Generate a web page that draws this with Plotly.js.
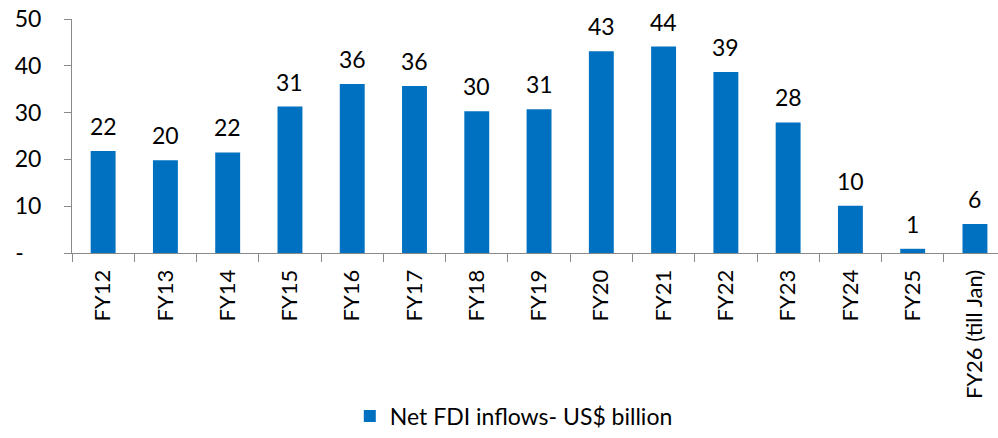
<!DOCTYPE html>
<html>
<head>
<meta charset="utf-8">
<script src="https://cdn.plot.ly/plotly-3.0.1.min.js"></script>
<style>html,body{margin:0;padding:0;background:#fff;}#chart{width:998px;height:438px;}</style>
</head>
<body>
<div id="chart"></div>
<script>
var categories = ["FY12","FY13","FY14","FY15","FY16","FY17","FY18","FY19","FY20","FY21","FY22","FY23","FY24","FY25","FY26 (till Jan)"];
var values = [21.8, 19.8, 21.5, 31.3, 36.1, 35.7, 30.3, 30.7, 43.1, 44.1, 38.7, 27.9, 10.1, 0.9, 6.2];
var labels = ["22","20","22","31","36","36","30","31","43","44","39","28","10","1","6"];
var yTickVals = [0, 10, 20, 30, 40, 50];
var yTickText = ["-\u00a0\u00a0\u00a0", "10", "20", "30", "40", "50"];
var seriesName = "Net FDI inflows- US$ billion";

var FONT = "Lato, 'Open Sans', sans-serif";
var annotations = categories.map(function(c, i){
  return {x: c, y: values[i], xref: "x", yref: "y", text: labels[i], showarrow: false,
    yanchor: "bottom", yshift: 9, font: {family: FONT, size: 23, color: "#000"}};
});

var trace = {
  type: "bar", x: categories, y: values, name: seriesName,
  marker: {color: "#0070C0"}, showlegend: true
};

var layout = {
  width: 998, height: 438,
  margin: {l: 72, r: 0, t: 19, b: 181},
  paper_bgcolor: "#fff", plot_bgcolor: "#fff",
  bargap: 0.6,
  font: {family: FONT, size: 22, color: "#000"},
  xaxis: {
    type: "category", range: [-0.5, 14.37], tickangle: -90,
    showline: true, linecolor: "#898989", linewidth: 1,
    ticks: "outside", tickson: "boundaries", ticklen: 8, tickcolor: "#898989",
    showgrid: false, zeroline: false, fixedrange: true, ticklabelstandoff: 7,
    tickfont: {family: FONT, size: 22, color: "#000"}
  },
  yaxis: {
    range: [0, 50], tickvals: yTickVals, ticktext: yTickText,
    showline: true, linecolor: "#898989", linewidth: 1,
    ticks: "outside", ticklen: 7, tickcolor: "#898989",
    showgrid: false, zeroline: false, ticklabelstandoff: 18,
    tickfont: {family: FONT, size: 23, color: "#000"}
  },
  showlegend: true,
  legend: {orientation: "h", x: 0.300, xanchor: "left", y: -0.697, yanchor: "middle",
    font: {family: FONT, size: 23, color: "#000"}, bgcolor: "rgba(0,0,0,0)"},
  annotations: annotations
};

Plotly.newPlot("chart", [trace], layout, {displayModeBar: false, staticPlot: true});
</script>
</body>
</html>
